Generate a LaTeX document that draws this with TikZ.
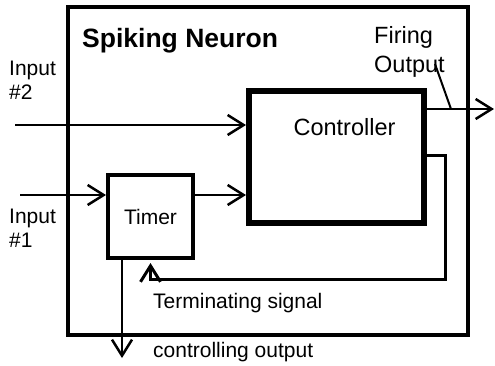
\documentclass[tikz,border=0pt]{standalone}
\usepackage{fontspec}
\setmainfont{Liberation Sans}
\usepackage{tikz}
\usetikzlibrary{arrows.meta,positioning,calc}

\begin{document}
\begin{tikzpicture}[
  x=1pt, y=-1pt,
  blockbox/.style={draw, rectangle, inner sep=0pt, font=\fontsize{21}{24}\selectfont},
  lbl/.style={inner sep=0pt, anchor=base west, align=left, font=\fontsize{21}{24}\selectfont},
  biglbl/.style={lbl, font=\fontsize{23.5}{29}\selectfont},
  arr/.style={-{Straight Barb[length=16pt,width=20pt]}, line width=2.5pt},
]
  \useasboundingbox (0,0) rectangle (495,365);

  \node[blockbox, line width=4.3pt, minimum width=400pt, minimum height=328pt] (neuron) at (268,171) {};
  \node[blockbox, line width=6pt, minimum width=175pt, minimum height=132pt] (ctrl) at (336.5,157) {};
  \node[blockbox, line width=4pt, minimum width=85pt, minimum height=83pt] (timer) at (150.5,216.5) {Timer};

  \node[lbl, font=\fontsize{26.5}{30}\selectfont\bfseries] (title) at (82,47) {Spiking Neuron};
  \node[biglbl, anchor=base] (ctrllbl) at (344.5,135) {Controller};
  \node[lbl] (in2lbl) at (9,99) {Input\\\#2};
  \node[lbl] (in1lbl) at (9,247) {Input\\\#1};
  \node[biglbl] (firelbl) at (374,72) {Firing\\Output};
  \node[lbl] (termlbl) at (153,308) {Terminating signal};
  \node[lbl] (outlbl) at (153,357) {controlling output};

  \coordinate (in2) at (15,125);
  \coordinate (in1) at (20,195);
  \coordinate (fire) at (494,109);
  \coordinate (lead) at (435,64);
  \coordinate (leadend) at (451,109);
  \coordinate (back) at (445,279);
  \coordinate (ctlout) at (122,358);

  \draw[arr] (in2) -- (in2 -| ctrl.west);
  \draw[arr] (in1) -- (in1 -| timer.west);
  \draw[arr] (in1 -| timer.east) -- (in1 -| ctrl.west);
  \draw[arr] (fire -| ctrl.east) -- (fire);
  \draw[line width=2pt] (lead) -- (leadend);
  \draw[arr, line width=3pt] (ctrl.east |- 0,155) -| (back) -| ([yshift=-3pt]timer.south);
  \draw[arr] (ctlout |- timer.south) -- (ctlout);
\end{tikzpicture}
\end{document}
